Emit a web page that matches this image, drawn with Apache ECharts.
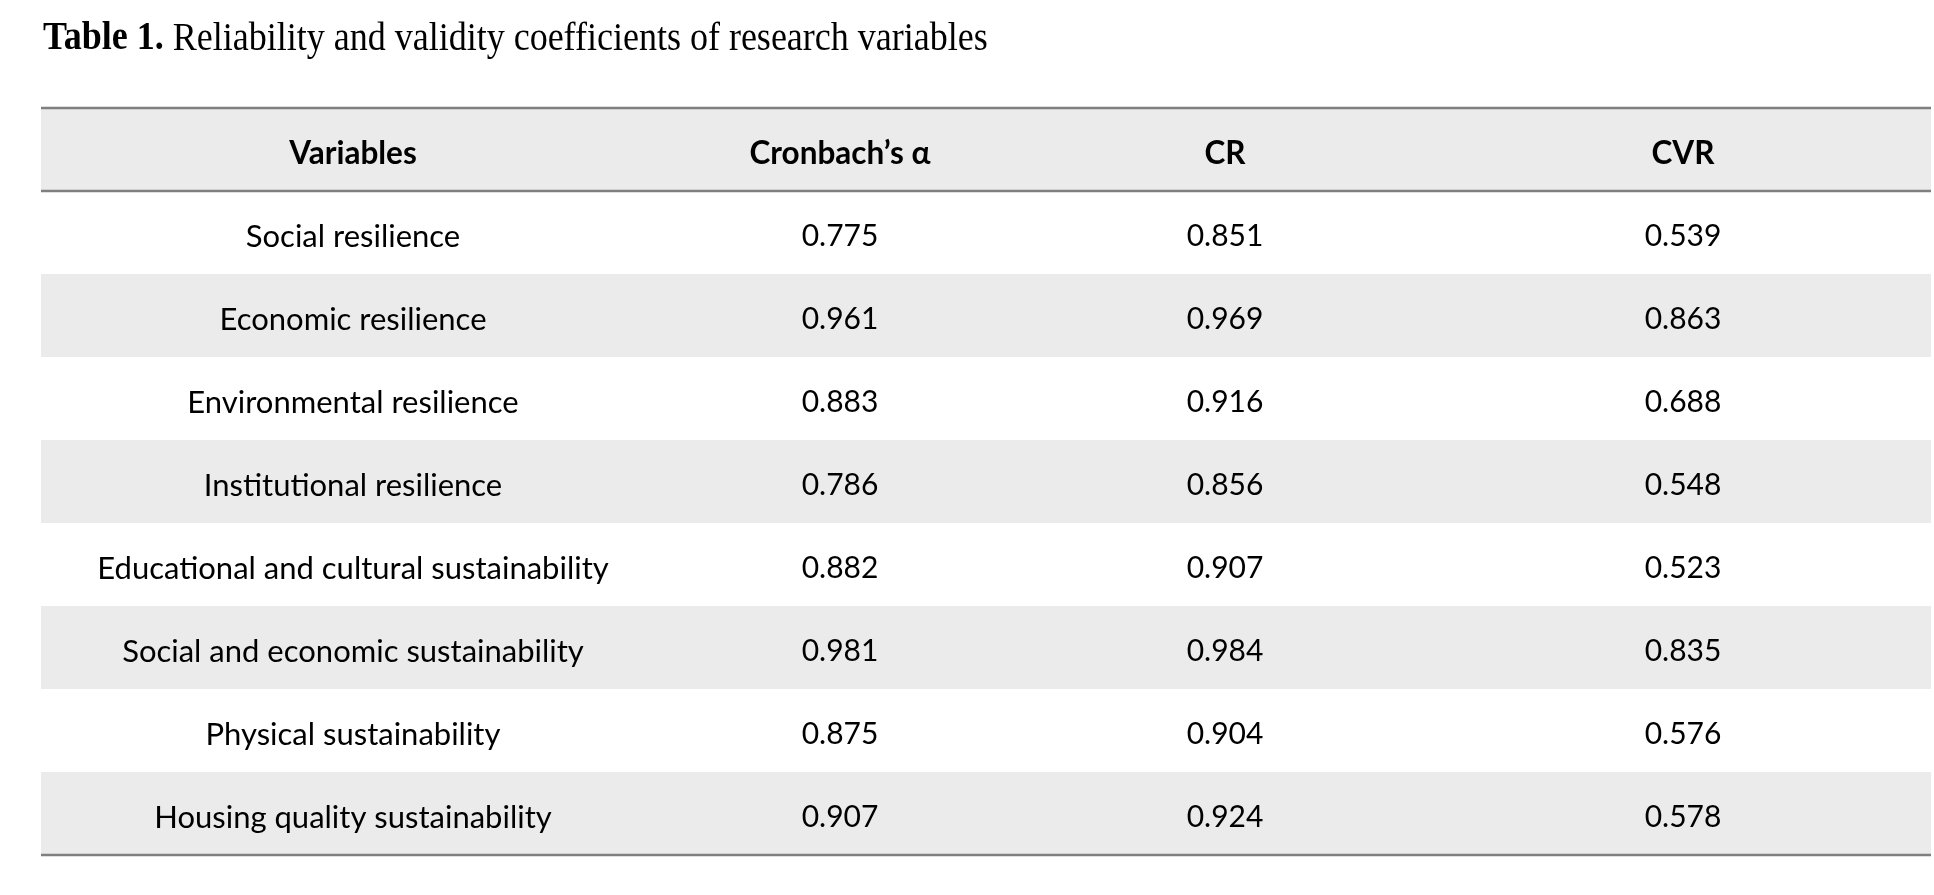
<!DOCTYPE html>
<html>
<head>
<meta charset="utf-8">
<script src="https://cdn.jsdelivr.net/npm/echarts@6/dist/echarts.min.js"></script>
<style>
  html, body {margin: 0; padding: 0; background: #fff;}
  #chart {width: 1934px; height: 895px;}
</style>
</head>
<body>
<div id="chart"></div>
<script>
// table contents
var title_bold = 'Table 1.';
var title_rest = ' Reliability and validity coefficients of research variables';
var headings = ['Variables', 'Cronbach’s α', 'CR', 'CVR'];
var variables = [
    'Social resilience',
    'Economic resilience',
    'Environmental resilience',
    'Institutional resilience',
    'Educational and cultural sustainability',
    'Social and economic sustainability',
    'Physical sustainability',
    'Housing quality sustainability'
];
var cronbach = [0.775, 0.961, 0.883, 0.786, 0.882, 0.981, 0.875, 0.907];
var cr = [0.851, 0.969, 0.916, 0.856, 0.907, 0.984, 0.904, 0.924];
var cvr = [0.539, 0.863, 0.688, 0.548, 0.523, 0.835, 0.576, 0.578];

// column edges along the x axis (table units)
var col_edges = [0, 624, 974, 1394, 1890];
var row_names = [headings[0]].concat(variables);

var body_font = 'Lato, "Open Sans", sans-serif';
var rule_color = '#7f7f7f';
var stripe_color = '#ebebeb';

var cells = [];
headings.forEach(function (h, c) { cells.push([c, 0, h]); });
variables.forEach(function (v, i) {
    cells.push([0, i + 1, v]);
    cells.push([1, i + 1, cronbach[i].toFixed(3)]);
    cells.push([2, i + 1, cr[i].toFixed(3)]);
    cells.push([3, i + 1, cvr[i].toFixed(3)]);
});

var chart = echarts.init(document.getElementById('chart'));

chart.setOption({
    animation: false,
    graphic: [{
        type: 'text',
        x: 43,
        y: 19,
        scaleX: 0.9,
        style: {
            text: '{b|' + title_bold + '}' + title_rest,
            font: '40px "Liberation Serif", "Times New Roman", serif',
            fill: '#000',
            verticalAlign: 'top',
            rich: {
                b: {fontWeight: 'bold', fontSize: 40, fontFamily: '"Liberation Serif", serif', fill: '#000'}
            }
        }
    }],
    grid: {left: 41, top: 108, width: 1890, height: 747, containLabel: false},
    xAxis: {type: 'value', min: 0, max: 1890, show: false},
    yAxis: {type: 'category', data: row_names, inverse: true, show: false},
    series: [
        {
            // row stripes: header and every second body row are grey
            type: 'custom',
            z: 1,
            silent: true,
            data: row_names.map(function (n, k) { return [0, k]; }),
            renderItem: function (params, api) {
                var k = api.value(1);
                if (k % 2 === 1) return null;
                var p0 = api.coord([0, k]);
                var p1 = api.coord([1890, k]);
                var h = api.size([0, 1])[1];
                return {
                    type: 'rect',
                    shape: {x: p0[0], y: p0[1] - h / 2, width: p1[0] - p0[0], height: h},
                    style: {fill: stripe_color}
                };
            }
        },
        {
            // horizontal rules: above header, below header, bottom of table
            type: 'custom',
            z: 2,
            silent: true,
            data: [[0, 0, -1], [0, 0, 1], [0, row_names.length - 1, 1]],
            renderItem: function (params, api) {
                var k = api.value(1);
                var side = api.value(2);
                var p0 = api.coord([0, k]);
                var p1 = api.coord([1890, k]);
                var h = api.size([0, 1])[1];
                var y = p0[1] + side * h / 2;
                return {
                    type: 'line',
                    shape: {x1: p0[0], y1: y, x2: p1[0], y2: y},
                    style: {stroke: rule_color, lineWidth: 2.5}
                };
            }
        },
        {
            type: 'custom',
            z: 3,
            silent: true,
            data: cells,
            renderItem: function (params, api) {
                var c = api.value(0);
                var k = api.value(1);
                var txt = cells[params.dataIndex][2];
                var p = api.coord([(col_edges[c] + col_edges[c + 1]) / 2, k]);
                var size = k === 0 ? 31.5 : (c === 0 ? 31 : 30);
                return {
                    type: 'text',
                    x: p[0],
                    y: p[1] + 4,
                    style: {
                        text: txt,
                        fill: '#000',
                        fontFamily: body_font,
                        fontSize: size,
                        fontWeight: k === 0 ? 'bold' : 'normal',
                        align: 'center',
                        verticalAlign: 'middle'
                    }
                };
            }
        }
    ]
});
</script>
</body>
</html>
